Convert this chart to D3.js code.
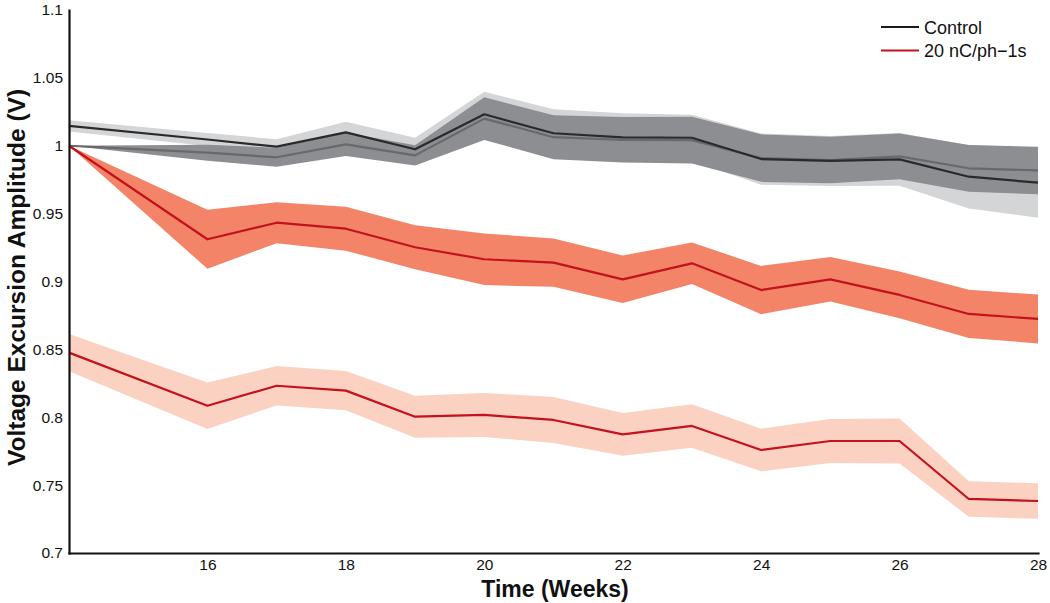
<!DOCTYPE html>
<html>
<head>
<meta charset="utf-8">
<script src="https://cdn.jsdelivr.net/npm/d3@7"></script>
<style>
  html, body { margin: 0; padding: 0; background: #fff; }
  svg { display: block; font-family: "Liberation Sans", Arial, Helvetica, sans-serif; }
  .axis path.domain { stroke: #111; stroke-width: 2.2px; }
  .axis text { font-size: 15.5px; fill: #111; }
  .axis-label { font-size: 23px; font-weight: bold; fill: #111; }
  .legend-text { font-size: 18px; fill: #111; }
</style>
</head>
<body>
<div id="chart"></div>
<script>
// ── Data ──────────────────────────────────────────────────────────────────
const weeks = [14, 16, 17, 18, 19, 20, 21, 22, 23, 24, 25, 26, 27, 28];

// control, absolute amplitude (black line, light grey band)
const controlMean = [1.0146, 1.0046, 0.9993, 1.0099, 0.9974, 1.0232, 1.0092, 1.0062, 1.0059, 0.9902, 0.9888, 0.9900, 0.9772, 0.9728];
const controlSem  = [0.0041, 0.0048, 0.0055, 0.0078, 0.0085, 0.0166, 0.0177, 0.0177, 0.0169, 0.0189, 0.0184, 0.0194, 0.0234, 0.0258];

// control, normalised to week 14 (grey line, dark grey band)
const controlNormMean = [1.0, 0.9949, 0.9915, 1.0010, 0.9929, 1.0200, 1.0063, 1.0044, 1.0041, 0.9909, 0.9895, 0.9922, 0.9834, 0.9818];
const controlNormSem  = [0.0, 0.0059, 0.0070, 0.0085, 0.0074, 0.0157, 0.0162, 0.0168, 0.0172, 0.0175, 0.0172, 0.0169, 0.0172, 0.0175];

// stimulated, normalised to week 14 (red line, salmon band)
const stimNormMean = [1.0, 0.9311, 0.9433, 0.9389, 0.9252, 0.9164, 0.9139, 0.9016, 0.9134, 0.8937, 0.9016, 0.8901, 0.8761, 0.8724];
const stimNormSem  = [0.0, 0.0217, 0.0151, 0.0162, 0.0162, 0.0190, 0.0178, 0.0175, 0.0153, 0.0178, 0.0164, 0.0172, 0.0178, 0.0180];

// stimulated, absolute amplitude (red line, peach band)
const stimMean = [0.8476, 0.8085, 0.8232, 0.8196, 0.8004, 0.8017, 0.7980, 0.7874, 0.7936, 0.7759, 0.7825, 0.7825, 0.7398, 0.7383];
const stimSem  = [0.0138, 0.0171, 0.0145, 0.0144, 0.0155, 0.0162, 0.0169, 0.0157, 0.0160, 0.0157, 0.0162, 0.0166, 0.0131, 0.0131];

const xTicks = [16, 18, 20, 22, 24, 26, 28];
const yTicks = [0.7, 0.75, 0.8, 0.85, 0.9, 0.95, 1, 1.05, 1.1];
const legendLabels = ["Control", "20 nC/ph\u22121s"];

// ── Dimensions ────────────────────────────────────────────────────────────
const W = 1050, H = 603;
const margin = { top: 10, right: 12, bottom: 50, left: 69 };

const svg = d3.select("#chart")
  .append("svg")
  .attr("width", W)
  .attr("height", H);

// ── Scales ────────────────────────────────────────────────────────────────
const x = d3.scaleLinear().domain([14, 28]).range([margin.left, W - margin.right]);
const y = d3.scaleLinear().domain([0.7, 1.1]).range([H - margin.bottom, margin.top]);

// ── Series ────────────────────────────────────────────────────────────────
const series = [
  { mean: controlMean,     sem: controlSem,     band: "#d4d5d7", line: "#2a2a2a", width: 2.2 },
  { mean: controlNormMean, sem: controlNormSem, band: "#8d8e91", line: "#69696c", width: 2.2 },
  { mean: stimNormMean,    sem: stimNormSem,    band: "#f38467", line: "#c4121c", width: 2.2 },
  { mean: stimMean,        sem: stimSem,        band: "#fbd2c2", line: "#c4121c", width: 2.2 }
];

const toPoints = (s) => weeks.map((w, i) => ({ w, m: s.mean[i], e: s.sem[i] }));

const area = d3.area()
  .x((d) => x(d.w))
  .y0((d) => y(d.m - d.e))
  .y1((d) => y(d.m + d.e));

const line = d3.line()
  .x((d) => x(d.w))
  .y((d) => y(d.m));

// bands first
series.forEach((s) => {
  svg.append("path")
    .datum(toPoints(s))
    .attr("fill", s.band)
    .attr("d", area);
});

// mean lines: grey normalised line first, then the rest
[1, 0, 2, 3].forEach((k) => {
  const s = series[k];
  svg.append("path")
    .datum(toPoints(s))
    .attr("fill", "none")
    .attr("stroke", s.line)
    .attr("stroke-width", s.width)
    .attr("stroke-linejoin", "round")
    .attr("d", line);
});

// ── Axes ──────────────────────────────────────────────────────────────────
svg.append("g")
  .attr("class", "axis axis-x")
  .attr("transform", `translate(0,${H - margin.bottom})`)
  .call(d3.axisBottom(x).tickValues(xTicks).tickSize(0).tickPadding(6).tickFormat(d3.format("d")))
  .call((g) => g.selectAll(".tick line").remove());

svg.append("g")
  .attr("class", "axis axis-y")
  .attr("transform", `translate(${margin.left},0)`)
  .call(d3.axisLeft(y).tickValues(yTicks).tickSize(0).tickPadding(6).tickFormat((d) => String(+d.toFixed(2))))
  .call((g) => g.selectAll(".tick line").remove());

svg.selectAll(".axis path.domain").attr("stroke-linecap", "square");

// ── Axis labels ───────────────────────────────────────────────────────────
svg.append("text")
  .attr("class", "axis-label")
  .attr("x", 555)
  .attr("y", 597)
  .attr("text-anchor", "middle")
  .text("Time (Weeks)");

svg.append("text")
  .attr("class", "axis-label")
  .attr("transform", `translate(25,${(margin.top + H - margin.bottom) / 2 - 4}) rotate(-90)`)
  .attr("text-anchor", "middle")
  .style("font-size", "24.5px")
  .text("Voltage Excursion Amplitude (V)");

// ── Legend ────────────────────────────────────────────────────────────────
const legendColors = ["#1a1a1a", "#c4121c"];
const legend = svg.append("g").attr("transform", "translate(881,27)");
legendLabels.forEach((lab, i) => {
  const row = legend.append("g").attr("transform", `translate(0,${i * 23.5})`);
  row.append("line")
    .attr("x1", 0).attr("x2", 38)
    .attr("y1", 0).attr("y2", 0)
    .attr("stroke", legendColors[i])
    .attr("stroke-width", 2.2);
  row.append("text")
    .attr("class", "legend-text")
    .attr("x", 43)
    .attr("y", 6.5)
    .text(lab);
});
</script>
</body>
</html>
